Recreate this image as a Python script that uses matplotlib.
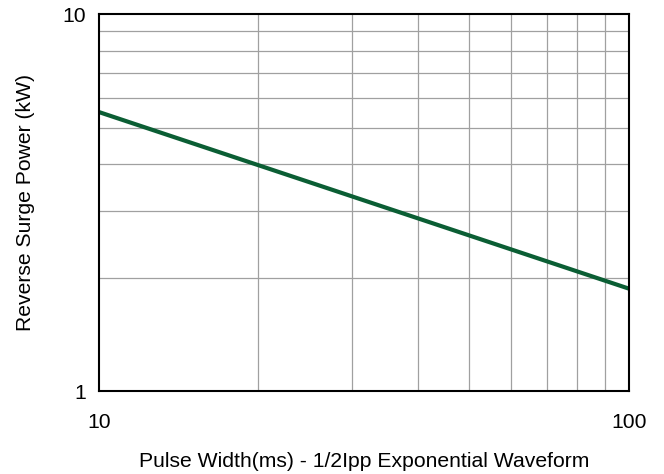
import matplotlib
matplotlib.use("Agg")
from matplotlib import pyplot as plt
from matplotlib.ticker import FixedLocator, NullFormatter

plt.rcParams['font.family'] = ['Liberation Sans', 'DejaVu Sans']

# pulse width (ms) vs reverse surge power (kW)
pulse_width = [10, 100]
surge_power = [5.5, 1.87]

x_ticks = [10, 100]
y_ticks = [1, 10]

fig = plt.figure(figsize=(6.64, 4.74), dpi=100)
ax = fig.add_axes([0.149, 0.175, 0.798, 0.795])

ax.loglog(pulse_width, surge_power, color='#0b5e34', linewidth=3, solid_capstyle='butt')

ax.set_xlim(10, 100)
ax.set_ylim(1, 10)

ax.xaxis.set_major_locator(FixedLocator(x_ticks))
ax.yaxis.set_major_locator(FixedLocator(y_ticks))
ax.xaxis.set_minor_locator(FixedLocator(range(20, 100, 10)))
ax.yaxis.set_minor_locator(FixedLocator(range(2, 10)))
ax.xaxis.set_minor_formatter(NullFormatter())
ax.yaxis.set_minor_formatter(NullFormatter())
ax.set_xticklabels([str(t) for t in x_ticks])
ax.set_yticklabels([str(t) for t in y_ticks])

ax.grid(which='minor', color='#a0a0a0', linewidth=0.9)
ax.tick_params(which='both', length=0, labelsize=15.2)
ax.tick_params(axis='x', pad=15.5)
ax.tick_params(axis='y', pad=9)

for s in ax.spines.values():
    s.set_linewidth(1.5)

ax.set_xlabel('Pulse Width(ms) - 1/2Ipp Exponential Waveform', fontsize=15.2, labelpad=14.5)
ax.set_ylabel('Reverse Surge Power (kW)', fontsize=15.2, labelpad=20)

fig.savefig('out.png', dpi=100)
